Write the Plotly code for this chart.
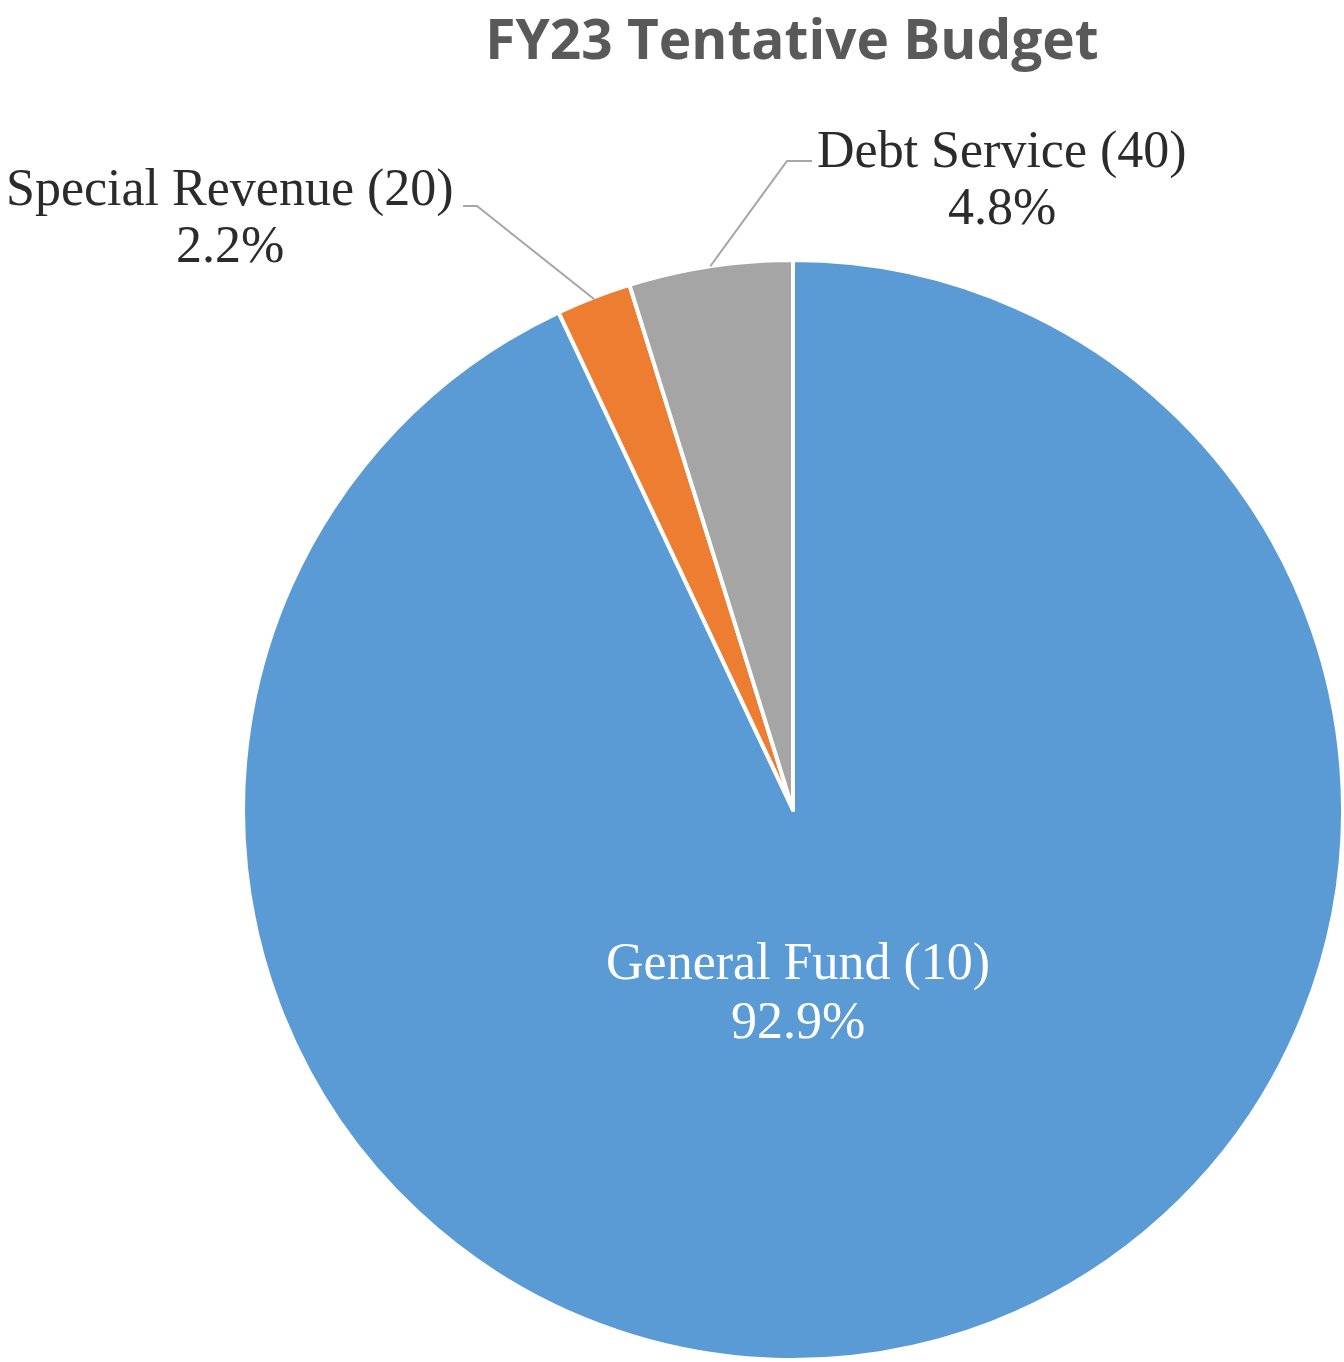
import math
import plotly.graph_objects as go

# ---- data ----
labels = ["General Fund (10)", "Special Revenue (20)", "Debt Service (40)"]
values = [92.9, 2.2, 4.8]          # percent of total, as labelled
colors = ["#5B9BD5", "#ED7D31", "#A5A5A5"]
title_text = "FY23 Tentative Budget"

W, H = 1344, 1362
CX, CY, R = 793, 810, 550  # pie centre / radius in px (layout)

def px(x):
    return x / W

def py(y):
    return 1 - y / H

fig = go.Figure(go.Pie(
    labels=labels,
    values=values,
    sort=False,
    direction="clockwise",
    rotation=0,
    marker=dict(colors=colors, line=dict(color="white", width=4)),
    textinfo="none",
    hoverinfo="label+value",
    showlegend=False,
    domain=dict(x=[px(CX - R), px(CX + R)], y=[py(CY + R), py(CY - R)]),
))

total = sum(values)
cum = 0
mids = []
for v in values:
    mids.append((cum + v / 2) / total * 2 * math.pi)
    cum += v

def edge(i, rr):
    a = mids[i]
    return CX + math.sin(a) * rr, CY - math.cos(a) * rr

font_family = "Liberation Serif, Times New Roman, serif"
fs = 52
annotations = []
shapes = []

def label(i, x, y1, y2, color):
    for txt, yy in ((labels[i], y1), (f"{values[i]:.1f}%", y2)):
        annotations.append(dict(
            x=px(x), y=py(yy), xref="paper", yref="paper",
            text=txt, showarrow=False,
            font=dict(family=font_family, size=fs, color=color),
            xanchor="center", yanchor="middle",
        ))

label(0, 798, 962, 1020, "white")
label(1, 230, 188, 245, "#2b2b2b")
label(2, 1002, 150, 207, "#2b2b2b")

ex, ey = edge(1, R - 2)
shapes.append(dict(type="path", xref="paper", yref="paper",
                   path=f"M {px(463)} {py(206)} L {px(477)} {py(206)} L {px(ex)} {py(ey)}",
                   line=dict(color="#A6A6A6", width=2)))
ex, ey = edge(2, R)
shapes.append(dict(type="path", xref="paper", yref="paper",
                   path=f"M {px(812)} {py(161)} L {px(787)} {py(161)} L {px(ex)} {py(ey)}",
                   line=dict(color="#A6A6A6", width=2)))

fig.update_layout(
    width=W, height=H,
    margin=dict(l=0, r=0, t=0, b=0),
    paper_bgcolor="white", plot_bgcolor="white",
    title=dict(text=f"<b>{title_text}</b>", x=px(792), xanchor="center",
               y=py(40), yanchor="middle",
               font=dict(family="Open Sans, sans-serif", size=55, color="#595959")),
    annotations=annotations,
    shapes=shapes,
)

fig.write_html("out.html")
